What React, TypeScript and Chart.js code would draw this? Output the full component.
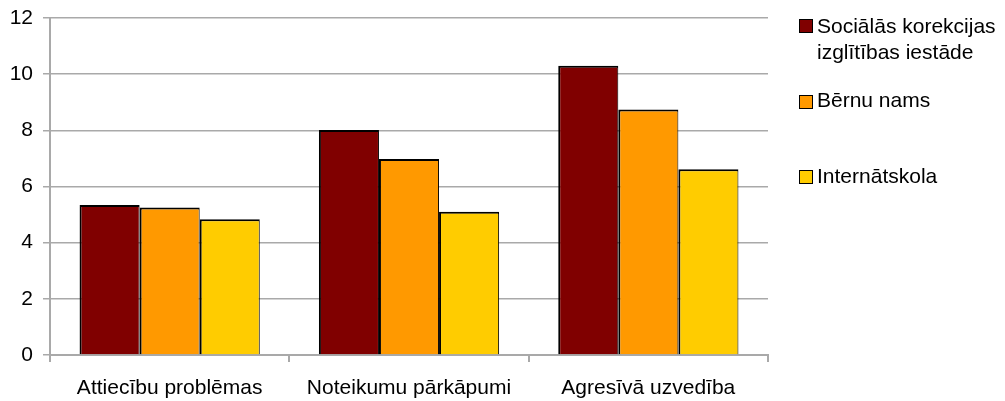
import React, { useEffect, useRef } from "react";
import { Chart, registerables } from "chart.js";

Chart.register(...registerables);

const categories = ["Attiecību problēmas", "Noteikumu pārkāpumi", "Agresīvā uzvedība"];
const seriesNames = [["Sociālās korekcijas", "izglītības iestāde"], ["Bērnu nams"], ["Internātskola"]];
const socialValues = [5.34, 8.01, 10.3];
const childrenHomeValues = [5.25, 6.98, 8.74];
const boardingValues = [4.83, 5.1, 6.61];
const seriesColors = ["#800000", "#FF9900", "#FFCC00"];
const yTicks = [0, 2, 4, 6, 8, 10, 12];

const FONT = "'Liberation Sans', Arial, sans-serif";
const GRID = "#a9a9a9";

export default function App() {
  const canvasRef = useRef<HTMLCanvasElement | null>(null);

  useEffect(() => {
    document.body.style.margin = "0";
    const canvas = canvasRef.current;
    if (!canvas) return;
    const allValues = [socialValues, childrenHomeValues, boardingValues];
    const chart = new Chart(canvas, {
      type: "bar",
      data: {
        labels: categories,
        datasets: allValues.map((vals, i) => ({
          label: seriesNames[i].join(" "),
          data: vals,
          backgroundColor: seriesColors[i],
          borderColor: "#000000",
          borderWidth: { top: 2, left: 2, right: 1, bottom: 0 },
          borderSkipped: "start",
          categoryPercentage: 0.753,
          barPercentage: 1,
        })),
      },
      options: {
        animation: false,
        responsive: false,
        devicePixelRatio: 1,
        layout: { padding: { top: 18, right: 237, left: 0, bottom: 0 } },
        plugins: { legend: { display: false }, tooltip: { enabled: false } },
        scales: {
          x: {
            grid: {
              offset: true,
              drawOnChartArea: true,
              color: (ctx: any) => (ctx.index === categories.length ? GRID : "rgba(0,0,0,0)"),
              tickColor: GRID,
              tickLength: 7,
              lineWidth: 2,
            },
            border: { color: GRID, width: 2 },
            ticks: { color: "#000", font: { family: FONT, size: 21 }, padding: 14, maxRotation: 0 },
            afterFit: (s: any) => { s.height = 46; },
          },
          y: {
            min: 0,
            max: 12,
            afterBuildTicks: (s: any) => { s.ticks = yTicks.map((v) => ({ value: v })); },
            grid: { color: GRID, tickColor: GRID, tickLength: 7, lineWidth: 1.5 },
            border: { color: GRID, width: 2 },
            ticks: { color: "#000", font: { family: FONT, size: 21, lineHeight: 0.6 }, padding: 10 },
            afterFit: (s: any) => { s.width = 50; },
          },
        },
      },
    });
    return () => chart.destroy();
  }, []);

  const squareTops = [19, 95, 170];
  const textTops = [13, 87, 163];

  return (
    <div style={{ position: "relative", width: 1005, height: 401, background: "#fff" }}>
      <canvas ref={canvasRef} width={1005} height={401} style={{ display: "block" }} />
      {seriesNames.map((lines, i) => (
        <React.Fragment key={i}>
          <div
            style={{
              position: "absolute",
              left: 799,
              top: squareTops[i],
              width: 12,
              height: 12,
              background: seriesColors[i],
              border: "1px solid #000",
            }}
          />
          <div
            style={{
              position: "absolute",
              left: 817,
              top: textTops[i],
              fontFamily: FONT,
              fontSize: 21,
              lineHeight: "26px",
              color: "#000",
              whiteSpace: "nowrap",
            }}
          >
            {lines.map((l, j) => (
              <div key={j}>{l}</div>
            ))}
          </div>
        </React.Fragment>
      ))}
    </div>
  );
}
